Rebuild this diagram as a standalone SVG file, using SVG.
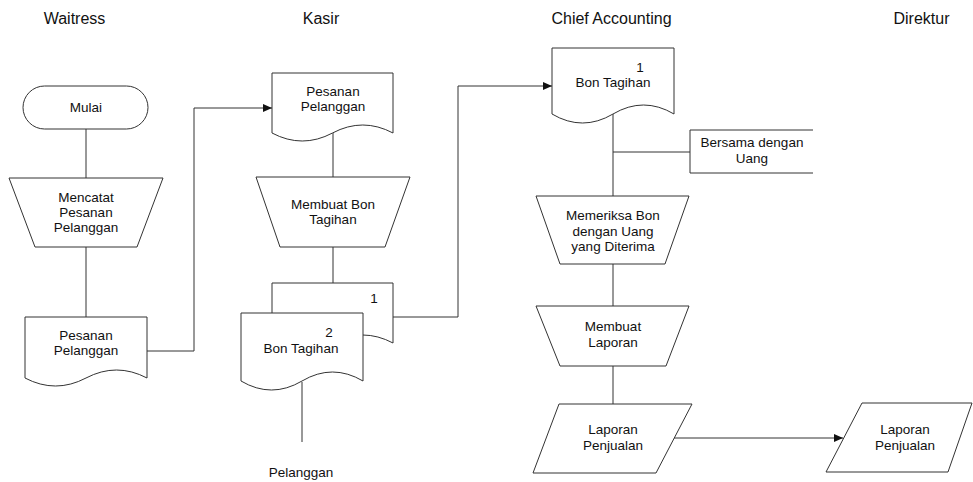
<svg xmlns="http://www.w3.org/2000/svg" width="973" height="482" viewBox="0 0 973 482">
  <defs>
    <marker id="arrow" markerWidth="9" markerHeight="8" refX="9" refY="4" orient="auto" markerUnits="userSpaceOnUse">
      <path d="M0,0 L9,4 L0,8 Z" fill="#111"/>
    </marker>
    <style>
      .shape { fill: #fff; stroke: #333; stroke-width: 1; }
      .line { fill: none; stroke: #333; stroke-width: 1; }
      .lbl { font-family: "Liberation Sans", Arial, sans-serif; font-size: 13.5px; fill: #111; text-anchor: middle; }
      .head { font-family: "Liberation Sans", Arial, sans-serif; font-size: 16px; fill: #111; text-anchor: middle; }
    </style>
  </defs>
  <rect width="973" height="482" fill="#fff"/>

  <!-- swimlane headings -->
  <g id="headings">
    <text class="head" x="74.5" y="24">Waitress</text>
    <text class="head" x="321" y="24">Kasir</text>
    <text class="head" x="611.5" y="24">Chief Accounting</text>
    <text class="head" x="921.5" y="24">Direktur</text>
  </g>

  <!-- connectors -->
  <g id="connectors">
    <path class="line" d="M86,129 V178"/>
    <path class="line" d="M86,247 V317"/>
    <path class="line" d="M147,351 H194 V108 H272" marker-end="url(#arrow)"/>
    <path class="line" d="M333,133 V177"/>
    <path class="line" d="M333,247 V283"/>
    <path class="line" d="M393,317 H458 V86 H552" marker-end="url(#arrow)"/>
    <path class="line" d="M302,382 V442"/>
    <path class="line" d="M613,114 V196"/>
    <path class="line" d="M613,152 H690"/>
    <path class="line" d="M613,264 V306"/>
    <path class="line" d="M613,366 V404"/>
    <path class="line" d="M674,438 H843" marker-end="url(#arrow)"/>
  </g>

  <!-- Waitress lane -->
  <g id="mulai">
    <rect class="shape" x="23" y="86" width="125" height="43" rx="21.5" ry="21.5"/>
    <text class="lbl" x="86" y="112">Mulai</text>
  </g>
  <g id="mencatat-pesanan">
    <path class="shape" d="M9,178 H163 L137,247 H35 Z"/>
    <text class="lbl" x="86" y="202">Mencatat</text>
    <text class="lbl" x="86" y="217">Pesanan</text>
    <text class="lbl" x="86" y="232">Pelanggan</text>
  </g>
  <g id="doc-pesanan-waitress">
    <path class="shape" d="M25,317 H147 V378 Q116.5,362 86,378 T25,378 Z"/>
    <text class="lbl" x="86" y="340">Pesanan</text>
    <text class="lbl" x="86" y="355">Pelanggan</text>
  </g>

  <!-- Kasir lane -->
  <g id="doc-pesanan-kasir">
    <path class="shape" d="M272,73 H393 V133 Q362.75,117 332.5,133 T272,133 Z"/>
    <text class="lbl" x="333" y="96">Pesanan</text>
    <text class="lbl" x="333" y="111">Pelanggan</text>
  </g>
  <g id="membuat-bon">
    <path class="shape" d="M256,177 H410 L385,247 H280 Z"/>
    <text class="lbl" x="333" y="209">Membuat Bon</text>
    <text class="lbl" x="333" y="224">Tagihan</text>
  </g>
  <g id="bon-tagihan-1">
    <path class="shape" d="M272,283 H393 V343 Q362.75,327 332.5,343 T272,343 Z"/>
    <text class="lbl" x="374" y="303">1</text>
  </g>
  <g id="bon-tagihan-2">
    <path class="shape" d="M241,313 H363 V381 Q332.5,363 302,381 T241,381 Z"/>
    <text class="lbl" x="329" y="337">2</text>
    <text class="lbl" x="301" y="353">Bon Tagihan</text>
  </g>
  <g id="pelanggan">
    <text class="lbl" x="301" y="477">Pelanggan</text>
  </g>

  <!-- Chief Accounting lane -->
  <g id="doc-bon-chief">
    <path class="shape" d="M552,48 H674 V114 Q643.5,96 613,114 T552,114 Z"/>
    <text class="lbl" x="640" y="72">1</text>
    <text class="lbl" x="613" y="87">Bon Tagihan</text>
  </g>
  <g id="bersama-uang">
    <path class="line" d="M813,130 H690 V173 H813"/>
    <text class="lbl" x="752" y="147">Bersama dengan</text>
    <text class="lbl" x="752" y="163">Uang</text>
  </g>
  <g id="memeriksa-bon">
    <path class="shape" d="M536,196 H689 L665,264 H560 Z"/>
    <text class="lbl" x="613" y="220">Memeriksa Bon</text>
    <text class="lbl" x="613" y="236">dengan Uang</text>
    <text class="lbl" x="613" y="251">yang Diterima</text>
  </g>
  <g id="membuat-laporan">
    <path class="shape" d="M536,306 H689 L666,366 H560 Z"/>
    <text class="lbl" x="613" y="331">Membuat</text>
    <text class="lbl" x="613" y="347">Laporan</text>
  </g>
  <g id="laporan-chief">
    <path class="shape" d="M559,404 H692 L656,473 H533 Z"/>
    <text class="lbl" x="613" y="434">Laporan</text>
    <text class="lbl" x="613" y="450">Penjualan</text>
  </g>

  <!-- Direktur lane -->
  <g id="laporan-direktur">
    <path class="shape" d="M862,403 H972 L948,472 H826 Z"/>
    <text class="lbl" x="905" y="434">Laporan</text>
    <text class="lbl" x="905" y="450">Penjualan</text>
  </g>
</svg>
